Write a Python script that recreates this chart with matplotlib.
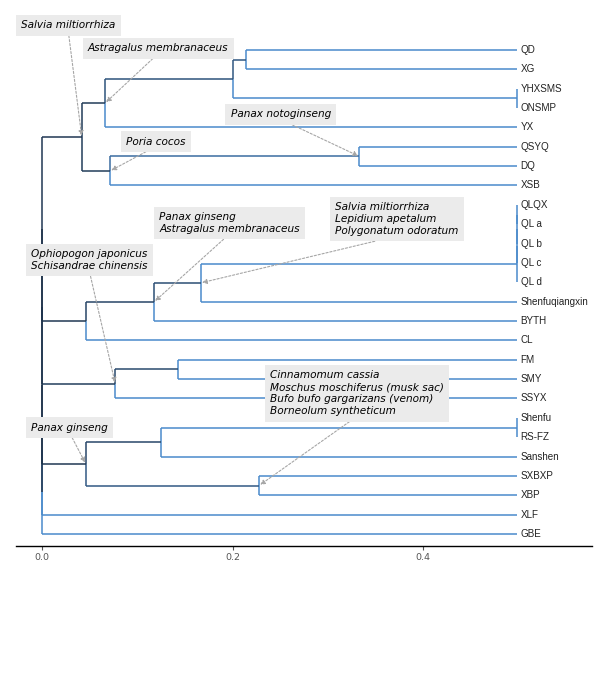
import matplotlib
matplotlib.use("Agg")
import matplotlib.pyplot as plt
from matplotlib.colors import LinearSegmentedColormap

# tips, top to bottom
tip_labels = ["QD", "XG", "YHXSMS", "ONSMP", "YX", "QSYQ", "DQ", "XSB",
              "QLQX", "QL a", "QL b", "QL c", "QL d", "Shenfuqiangxin", "BYTH", "CL",
              "FM", "SMY", "SSYX", "Shenfu", "RS-FZ", "Sanshen", "SXBXP", "XBP",
              "XLF", "GBE"]
tip_parent = ["A1a1", "A1a1", "YH", "YH", "A1", "QS", "QS", "A2",
              "QL1", "QL1", "QL2", "QL3", "QL4", "B1a", "B1", "B",
              "C1", "C1", "C", "SF", "SF", "D1", "D2", "D2",
              "R5", "root"]
tip_height = 0.498

# internal nodes
node_names = ["root", "R5", "R4", "R3", "R2",
              "A", "A1", "A1a", "A1a1", "YH", "A2", "QS",
              "B", "B1", "B1a", "QL4", "QL3", "QL2", "QL1",
              "C", "C1", "D", "D1", "D2", "SF"]
node_parents = [None, "root", "R5", "R4", "R3",
                "R2", "A", "A1", "A1a", "A1a", "A", "A2",
                "R2", "B", "B1", "B1a", "QL4", "QL3", "QL2",
                "R3", "C", "R4", "D", "D", "D1"]
node_height = [0.0, 0.0, 0.0, 0.0, 0.0,
               0.0417, 0.0661, 0.200, 0.214, 0.498, 0.0714, 0.333,
               0.0459, 0.1175, 0.1665, 0.498, 0.498, 0.498, 0.498,
               0.0769, 0.143, 0.0459, 0.125, 0.2277, 0.498]

# annotations: text, target node, text anchor (x, y)
ann_text = ["Salvia miltiorrhiza",
            "Astragalus membranaceus",
            "Panax notoginseng",
            "Poria cocos",
            "Panax ginseng\nAstragalus membranaceus",
            "Salvia miltiorrhiza\nLepidium apetalum\nPolygonatum odoratum",
            "Ophiopogon japonicus\nSchisandrae chinensis",
            "Cinnamomum cassia\nMoschus moschiferus (musk sac)\nBufo bufo gargarizans (venom)\nBorneolum syntheticum",
            "Panax ginseng"]
ann_node = ["A", "A1", "QS", "A2", "B1", "B1a", "C", "D2", "D"]
ann_x = [-0.022, 0.0483, 0.198, 0.088, 0.1228, 0.3075, -0.0115, 0.239, -0.0115]
ann_y = [26.27, 25.08, 21.67, 20.27, 16.06, 16.27, 14.15, 7.26, 5.50]

# layout of the tree
x = {}
y = {}
parent = {}
for name, p, h in zip(node_names, node_parents, node_height):
    x[name] = h
    parent[name] = p
for i, (lab, p) in enumerate(zip(tip_labels, tip_parent)):
    x[lab] = tip_height
    y[lab] = len(tip_labels) - 1 - i
    parent[lab] = p

children = {}
for k, p in parent.items():
    if p is not None:
        children.setdefault(p, []).append(k)


def node_y(n):
    if n in y:
        return y[n]
    ys = [node_y(c) for c in children[n]]
    y[n] = sum(ys) / len(ys)
    return y[n]


node_y("root")

cmap = LinearSegmentedColormap.from_list("tree", ["#1c3048", "#4a8acb"])

fig = plt.figure(figsize=(6.02, 6.79), dpi=100)
ax = fig.add_axes([16 / 602, 133 / 679, 576 / 602, 546 / 679])

# draw lighter (deeper) edges first so the darker ones sit on top
edges = [k for k in parent if parent[k] is not None]
edges.sort(key=lambda k: -x[k])
for k in edges:
    p = parent[k]
    col = cmap(min(x[k] / tip_height, 1.0))
    ax.plot([x[p], x[k]], [y[k], y[k]], color=col, lw=1.1, solid_capstyle="butt")
    ax.plot([x[p], x[p]], [y[p], y[k]], color=col, lw=1.1, solid_capstyle="butt")

for lab in tip_labels:
    ax.text(x[lab] + 0.004, y[lab], lab, fontsize=7.1, family="Liberation Sans",
            color="#222222", ha="left", va="center")

for txt, n, tx, ty in zip(ann_text, ann_node, ann_x, ann_y):
    ax.annotate(txt, xy=(x[n], y[n]), xytext=(tx, ty),
                fontsize=7.6, style="italic", family="DejaVu Sans",
                ha="left", va="center", linespacing=1.25,
                bbox=dict(boxstyle="square,pad=0.5", fc="#ebebeb", ec="none"),
                arrowprops=dict(arrowstyle="-|>", color="#a6a6a6", lw=0.8,
                                linestyle=(0, (2, 1.6)), mutation_scale=7,
                                relpos=(0.5, 0), shrinkA=0, shrinkB=1))

ax.set_xlim(-0.0273, 0.577)
ax.set_ylim(-0.62, 27.58)
for s in ["top", "right", "left"]:
    ax.spines[s].set_visible(False)
ax.spines["bottom"].set_linewidth(1.0)
ax.set_yticks([])
ax.set_xticks([0.0, 0.2, 0.4])
ax.set_xticklabels(["0.0", "0.2", "0.4"])
ax.tick_params(axis="x", length=3, color="#555555", labelsize=6.8,
               labelcolor="#555555", pad=2)

fig.savefig("out.png", dpi=100)
